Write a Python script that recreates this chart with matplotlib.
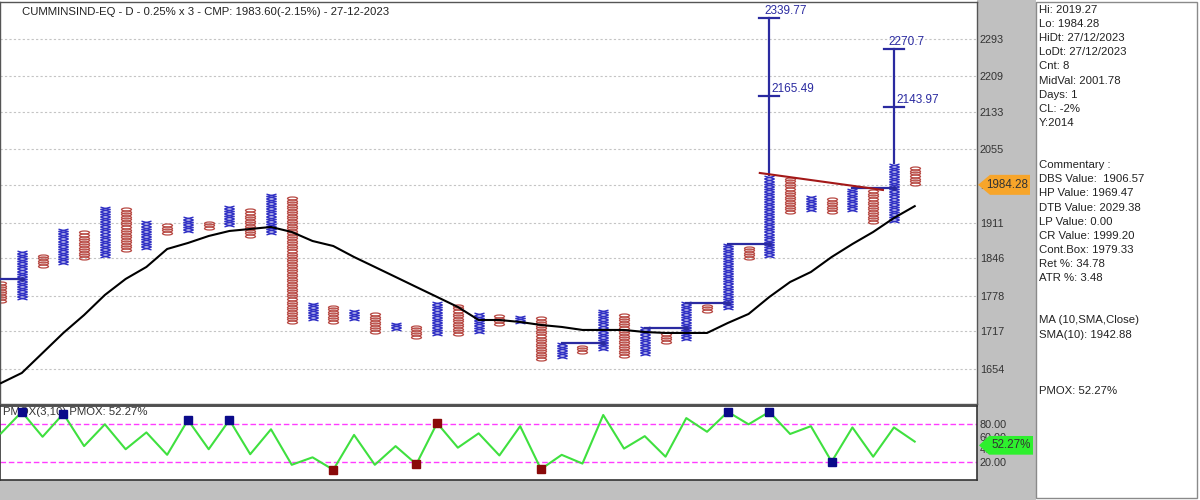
import numpy as np
import matplotlib
matplotlib.use("Agg")
import matplotlib.pyplot as plt
from matplotlib.path import Path
from matplotlib.patches import Polygon, Rectangle
from matplotlib.transforms import Affine2D, blended_transform_factory
from matplotlib.ticker import NullLocator

plt.rcParams["font.family"] = ["Liberation Sans", "DejaVu Sans"]

# ---- data ----
title = "CUMMINSIND-EQ - D - 0.25% x 3 - CMP: 1983.60(-2.15%) - 27-12-2023"
box_pct = 0.0025

col_types = "OX" * 22 + "O"
col_high = [1802.5, 1856.8, 1853.1, 1901.4, 1893.9, 1943.2, 1937.5, 1914.6, 1908.9, 1920.3,
            1914.6, 1943.2, 1937.5, 1968.4, 1962.5, 1765.5, 1762.0, 1753.3, 1748.1, 1730.9,
            1727.5, 1765.5, 1762.0, 1748.1, 1744.6, 1744.6, 1739.5, 1697.0, 1691.9, 1753.3,
            1748.1, 1722.4, 1715.5, 1765.5, 1762.0, 1871.5, 1866.0, 2003.7, 1997.8, 1960.6,
            1956.7, 1978.1, 1974.2, 2027.7, 2019.3]
col_low = [1767.2, 1772.4, 1829.5, 1834.9, 1844.0, 1847.6, 1858.6, 1862.3, 1890.2, 1893.9,
           1899.5, 1905.2, 1884.5, 1890.2, 1730.9, 1736.0, 1730.9, 1736.0, 1713.9, 1719.0,
           1705.4, 1710.5, 1710.5, 1713.9, 1727.5, 1730.9, 1668.7, 1672.0, 1680.3, 1685.3,
           1673.6, 1677.0, 1697.0, 1702.1, 1749.8, 1755.0, 1844.0, 1847.6, 1929.8, 1933.6,
           1929.8, 1933.6, 1910.8, 1912.7, 1984.3]

sma10 = [1631.0, 1647.4, 1680.3, 1713.9, 1744.6, 1779.5, 1807.9, 1829.5, 1862.3, 1873.4,
         1886.4, 1895.8, 1899.5, 1903.3, 1893.9, 1877.1, 1867.8, 1847.6, 1829.5, 1811.5,
         1793.6, 1776.0, 1758.5, 1736.0, 1736.0, 1732.6, 1727.5, 1724.1, 1719.0, 1719.0,
         1719.0, 1715.5, 1713.9, 1713.9, 1713.9, 1730.9, 1746.4, 1776.0, 1802.5, 1820.4,
         1847.6, 1871.5, 1893.9, 1920.3, 1942.9]

pmox = [65.5, 100, 60, 97, 45, 80, 40, 67, 31, 87,
        40, 87, 32, 72, 15, 27, 7, 63, 15, 45,
        16, 82, 42.5, 65.5, 30, 77, 8, 31, 17, 95,
        41, 61, 28, 90, 68, 100, 80, 100, 64.5, 77,
        20, 75, 28, 75, 52.27]
pmox_buy = [1, 3, 9, 11, 35, 37, 40]
pmox_sell = [16, 20, 21, 26]

# breakout lines: from column, to column, level
bo_from = [-1, 27, 31, 33, 35, 41]
bo_to = [1, 29, 33, 35, 37, 43]
bo_level = [1807.9, 1697.0, 1722.4, 1765.5, 1871.5, 1978.1]

# vertical count targets
tgt_col = [37, 43]
tgt_high = [2339.77, 2270.7]
tgt_mid = [2165.49, 2143.97]
tgt_high_lbl = ["2339.77", "2270.7"]
tgt_mid_lbl = ["2165.49", "2143.97"]

# resistance trendline
trend_x = [36.54, 42.47]
trend_y = [2007.7, 1974.2]

grid_levels = [1654, 1717, 1778, 1846, 1911, 1984, 2055, 2133, 2209, 2293]
last_price = 1984.28
last_pmox = 52.27

info_lines = ["Hi: 2019.27", "Lo: 1984.28", "HiDt: 27/12/2023", "LoDt: 27/12/2023", "Cnt: 8",
              "MidVal: 2001.78", "Days: 1", "CL: -2%", "Y:2014", "", "",
              "Commentary :", "DBS Value:  1906.57", "HP Value: 1969.47", "DTB Value: 2029.38",
              "LP Value: 0.00", "CR Value: 1999.20", "Cont.Box: 1979.33", "Ret %: 34.78",
              "ATR %: 3.48", "", "", "MA (10,SMA,Close)", "SMA(10): 1942.88", "", "", "",
              "PMOX: 52.27%"]

# ---- colours ----
X_COL = "#3030C4"
O_COL = "#B84A44"
NAVY = "#2A2AA0"
GREY = "#C0C0C0"

W, H = 1200, 500
fig = plt.figure(figsize=(12, 5), dpi=100)


def fx(px):
    return px / W


def fy(py):
    return 1 - py / H


# background panels (behind the axes)
fig.patches.append(Rectangle((fx(977), 0), fx(1036 - 977), 1, transform=fig.transFigure,
                             facecolor=GREY, edgecolor="none", zorder=-5))
fig.patches.append(Rectangle((0, 0), fx(1036), 20 / H, transform=fig.transFigure,
                             facecolor=GREY, edgecolor="none", zorder=-5))
fig.patches.append(Rectangle((fx(1036), fy(498)), fx(1197 - 1036), 496 / H, transform=fig.transFigure,
                             facecolor="white", edgecolor="#8a8a8a", lw=1, zorder=-5))

ax = fig.add_axes([0, fy(404), fx(977), (404 - 2) / H])
ax2 = fig.add_axes([0, fy(480), fx(977), (480 - 406) / H])

# ---- main point & figure panel ----
ax.set_yscale("log")
ax.set_ylim(1597.6, 2377.6)
ax.set_xlim(-0.05, 47.0)

for g in grid_levels:
    ax.axhline(g, color="#c4c4c4", lw=0.8, ls=(0, (2, 2)), zorder=0)

x_path = Path([(-1, -0.27), (1, 0.27), (-1, 0.27), (1, -0.27)],
              [Path.MOVETO, Path.LINETO, Path.MOVETO, Path.LINETO])
o_path = Path.unit_circle().transformed(Affine2D().scale(1, 0.3))

for i, (t, lo, hi) in enumerate(zip(col_types, col_low, col_high)):
    n = max(1, int(round(np.log(hi / lo) / np.log(1 + box_pct))))
    ys = lo * (1 + box_pct) ** (np.arange(n) + 0.5)
    if t == "X":
        ax.plot([i] * n, ys, ls="none", marker=x_path, ms=7.2, mec=X_COL, mew=1.0, zorder=2)
    else:
        ax.plot([i] * n, ys, ls="none", marker=o_path, ms=7.2, mfc="none", mec=O_COL, mew=0.9, zorder=2)

cols = np.arange(len(sma10))
ax.plot(cols, sma10, color="black", lw=1.5, zorder=4)

for f, t, lvl in zip(bo_from, bo_to, bo_level):
    ax.plot([f, t], [lvl, lvl], color=NAVY, lw=1.6, zorder=5)
    ax.plot(t, lvl, "o", ms=2.5, color=NAVY, zorder=5)

for c, th, tm, lh, lm in zip(tgt_col, tgt_high, tgt_mid, tgt_high_lbl, tgt_mid_lbl):
    ax.plot([c, c], [col_high[c], th], color=NAVY, lw=1.6, zorder=5)
    for lvl in (th, tm):
        ax.plot([c - 0.48, c + 0.48], [lvl, lvl], color=NAVY, lw=1.6, zorder=5)
    ax.text(c - 0.25, th * 1.001, lh, color=NAVY, fontsize=8.5, ha="left", va="bottom", zorder=6)
    ax.text(c + 0.1, tm * 1.001, lm, color=NAVY, fontsize=8.5, ha="left", va="bottom", zorder=6)

ax.plot(trend_x, trend_y, color="#A31818", lw=1.5, zorder=5)

ax.set_xticks([])
ax.yaxis.tick_right()
ax.set_yticks(grid_levels)
ax.set_yticklabels([str(g) for g in grid_levels])
ax.yaxis.set_minor_locator(NullLocator())
ax.tick_params(axis="y", which="both", length=0, pad=2, labelsize=7.8, labelcolor="#333333")
for s in ax.spines.values():
    s.set_color("#555555")
    s.set_linewidth(1)

# current price flag
tr = blended_transform_factory(ax.transAxes, ax.transData)
k = np.exp(10 * 0.000989)
flag = [(1 + 1 / 977, last_price), (1 + 13 / 977, last_price * k), (1 + 53 / 977, last_price * k),
        (1 + 53 / 977, last_price / k), (1 + 13 / 977, last_price / k)]
ax.add_patch(Polygon(flag, closed=True, transform=tr, clip_on=False,
                     facecolor="#F7A52A", edgecolor="none", zorder=8))
ax.text(1 + 30 / 977, last_price, f"{last_price:.2f}", transform=tr, clip_on=False,
        ha="center", va="center", fontsize=8.4, color="#333333", zorder=9)

fig.text(fx(22), fy(12), title, fontsize=8.2, color="#222222", va="center", ha="left")

# ---- PMOX panel ----
ax2.set_xlim(-0.05, 47.0)
ax2.set_ylim(-9.4, 109.4)
ax2.axhline(80, color="#FF3CFF", lw=1, ls=(0, (4, 2)), zorder=1)
ax2.axhline(20, color="#FF3CFF", lw=1, ls=(0, (4, 2)), zorder=1)
ax2.text(0.1, 99, "PMOX(3,10) PMOX: 52.27%", fontsize=8.2, color="#333333",
         va="center", ha="left", zorder=2)
ax2.plot(np.arange(len(pmox)), pmox, color="#3FE03F", lw=1.5, zorder=3)
ax2.plot(pmox_buy, [pmox[i] for i in pmox_buy], "s", ms=6, color="#0A0A8A", zorder=4)
ax2.plot(pmox_sell, [pmox[i] for i in pmox_sell], "s", ms=6, color="#8A0A0A", zorder=4)

ax2.set_xticks([])
ax2.yaxis.tick_right()
ax2.set_yticks([20, 40, 60, 80])
ax2.set_yticklabels(["20.00", "40.00", "60.00", "80.00"])
ax2.tick_params(axis="y", length=0, pad=2, labelsize=7.8, labelcolor="#333333")
for s in ax2.spines.values():
    s.set_color("#333333")
    s.set_linewidth(1.2)

# value flag, drawn a few pixels below the value as in the reference
tr2 = blended_transform_factory(ax2.transAxes, ax2.transData)
d = 15
yc = last_pmox - 6
gflag = [(1 + 2 / 977, yc), (1 + 12 / 977, yc + d), (1 + 56 / 977, yc + d),
         (1 + 56 / 977, yc - d), (1 + 12 / 977, yc - d)]
ax2.add_patch(Polygon(gflag, closed=True, transform=tr2, clip_on=False,
                      facecolor="#2EF02E", edgecolor="none", zorder=8))
ax2.text(1 + 34 / 977, yc, f"{last_pmox:.2f}%", transform=tr2, clip_on=False,
         ha="center", va="center", fontsize=8.4, color="#333333", zorder=9)

# ---- info panel ----
for j, line in enumerate(info_lines):
    if line:
        fig.text(fx(1039), fy(10 + 14.11 * j), line, fontsize=8.2, color="#222222",
                 va="center", ha="left")

fig.savefig("out.png", dpi=100)
